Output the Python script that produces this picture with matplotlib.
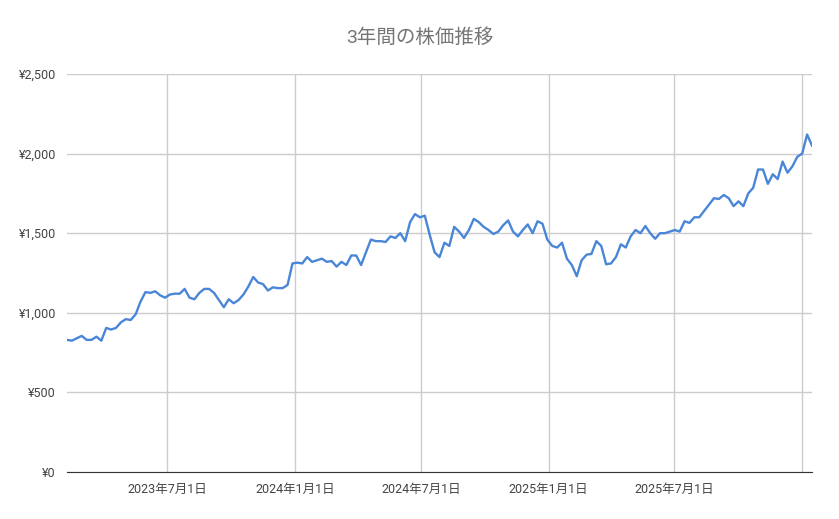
import matplotlib.pyplot as plt
import pandas as pd

plt.rcParams['font.family'] = ['Roboto', 'Noto Sans CJK JP', 'DejaVu Sans']

title = '3年間の株価推移'
prices = [830, 825, 840, 855, 830, 830, 850, 825, 905, 895, 905, 940, 960, 955, 990,
          1070, 1130, 1125, 1135, 1110, 1095, 1115, 1120, 1120, 1150, 1095, 1085, 1125,
          1150, 1150, 1125, 1080, 1035, 1085, 1060, 1080, 1115, 1165, 1225, 1190, 1180,
          1140, 1160, 1155, 1155, 1175, 1310, 1315, 1310, 1350, 1320, 1330, 1340, 1320,
          1325, 1290, 1320, 1300, 1360, 1360, 1300, 1380, 1460, 1450, 1450, 1445, 1480,
          1470, 1500, 1450, 1570, 1620, 1600, 1610, 1490, 1380, 1350, 1440, 1420, 1540,
          1510, 1470, 1520, 1590, 1570, 1540, 1520, 1495, 1510, 1550, 1580, 1510, 1480,
          1520, 1555, 1500, 1575, 1560, 1460, 1420, 1410, 1440, 1340, 1300, 1230, 1330,
          1365, 1370, 1450, 1420, 1305, 1310, 1350, 1430, 1410, 1480, 1520, 1500, 1545,
          1500, 1465, 1500, 1500, 1510, 1520, 1510, 1575, 1565, 1600, 1600, 1640, 1680,
          1720, 1715, 1740, 1720, 1670, 1700, 1670, 1750, 1785, 1900, 1900, 1810, 1870,
          1840, 1950, 1880, 1920, 1980, 2000, 2120, 2050]
start, end = pd.Timestamp('2023-02-06'), pd.Timestamp('2026-01-16')
dates = pd.date_range(start, end, periods=len(prices))
xticks = pd.to_datetime(['2023-07-01', '2024-01-01', '2024-07-01', '2025-01-01', '2025-07-01', '2026-01-01'])
xlabels = ['2023年7月1日', '2024年1月1日', '2024年7月1日', '2025年1月1日', '2025年7月1日', '']
yticks = [0, 500, 1000, 1500, 2000, 2500]

fig = plt.figure(figsize=(8.39, 5.19), dpi=100)
ax = fig.add_axes([67 / 839, 1 - 472 / 519, 745 / 839, 398 / 519])
ax.plot(dates, prices, color='#4a86d8', lw=1.7)

ax.set_xlim(start, end)
ax.set_ylim(0, 2500)
ax.set_xticks(xticks)
ax.set_xticklabels(xlabels)
ax.set_yticks(yticks)
ax.set_yticklabels([f'¥{v:,}' for v in yticks])
ax.grid(color='#cccccc', lw=1)
ax.set_axisbelow(True)
for s in ['left', 'right', 'top']:
    ax.spines[s].set_visible(False)
ax.spines['bottom'].set_color('#333333')
ax.tick_params(length=0, labelsize=9, labelcolor='#444444', pad=8)
fig.suptitle(title, x=0.5, y=0.945, fontsize=14, color='#757575')

fig.savefig('out.png', dpi=100)
